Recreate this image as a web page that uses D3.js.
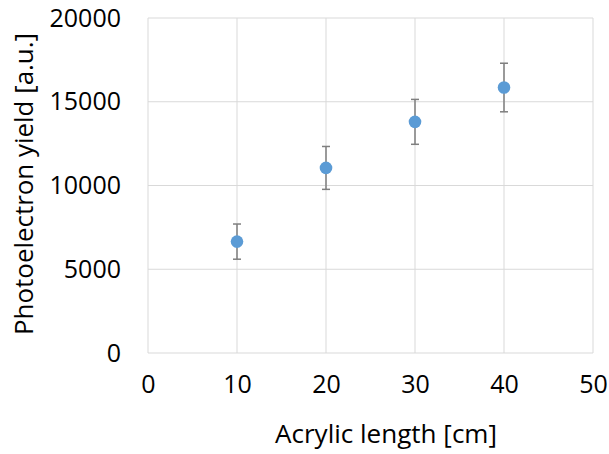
<!DOCTYPE html>
<html>
<head>
<meta charset="utf-8">
<script src="https://cdn.jsdelivr.net/npm/d3@7"></script>
<style>
  body { margin: 0; background: #fff; }
  text { font-family: "Open Sans", sans-serif; fill: #000; }
</style>
</head>
<body>
<div id="wrapper"></div>
<script>
// data
const lengths = [10, 20, 30, 40]
const yields = [6650, 11050, 13800, 15850]
const errors = [1050, 1280, 1340, 1450]
const xTicks = [0, 10, 20, 30, 40, 50]
const yTicks = [0, 5000, 10000, 15000, 20000]

const dimensions = {
  width: 609,
  height: 454,
  margin: { top: 18, right: 16, bottom: 101, left: 148 },
}
dimensions.boundedWidth = dimensions.width - dimensions.margin.left - dimensions.margin.right
dimensions.boundedHeight = dimensions.height - dimensions.margin.top - dimensions.margin.bottom

const wrapper = d3.select("#wrapper")
  .append("svg")
  .attr("width", dimensions.width)
  .attr("height", dimensions.height)

const bounds = wrapper.append("g")
  .attr("transform", `translate(${dimensions.margin.left},${dimensions.margin.top})`)

const xScale = d3.scaleLinear().domain([0, 50]).range([0, dimensions.boundedWidth])
const yScale = d3.scaleLinear().domain([0, 20000]).range([dimensions.boundedHeight, 0])

// gridlines
bounds.append("g")
  .selectAll("line")
  .data(xTicks)
  .enter().append("line")
  .attr("x1", d => xScale(d)).attr("x2", d => xScale(d))
  .attr("y1", 0).attr("y2", dimensions.boundedHeight)
  .attr("stroke", "#d9d9d9").attr("stroke-width", 1)
bounds.append("g")
  .selectAll("line")
  .data(yTicks)
  .enter().append("line")
  .attr("x1", 0).attr("x2", dimensions.boundedWidth)
  .attr("y1", d => yScale(d)).attr("y2", d => yScale(d))
  .attr("stroke", "#d9d9d9").attr("stroke-width", 1)

// axes, only for labels
const xAxis = bounds.append("g")
  .attr("transform", `translate(0,${dimensions.boundedHeight})`)
  .call(d3.axisBottom(xScale).tickValues(xTicks).tickFormat(d3.format("d")).tickSize(0).tickPadding(22))
const yAxis = bounds.append("g")
  .call(d3.axisLeft(yScale).tickValues(yTicks).tickFormat(d3.format("d")).tickSize(0).tickPadding(27))
;[xAxis, yAxis].forEach(a => {
  a.select(".domain").remove()
  a.selectAll("text")
    .style("font-family", "'Open Sans', sans-serif")
    .style("font-size", "25px")
    .attr("fill", "#000")
})

// error bars
const capHalf = 4
const bars = bounds.append("g")
  .attr("stroke", "#7f7f7f")
  .attr("stroke-width", 1.5)
lengths.forEach((l, i) => {
  const x = xScale(l)
  const yTop = yScale(yields[i] + errors[i])
  const yBot = yScale(yields[i] - errors[i])
  bars.append("line").attr("x1", x).attr("x2", x).attr("y1", yTop).attr("y2", yBot)
  bars.append("line").attr("x1", x - capHalf).attr("x2", x + capHalf).attr("y1", yTop).attr("y2", yTop)
  bars.append("line").attr("x1", x - capHalf).attr("x2", x + capHalf).attr("y1", yBot).attr("y2", yBot)
})

// points
bounds.selectAll(".dot")
  .data(lengths)
  .enter().append("circle")
  .attr("class", "dot")
  .attr("cx", d => xScale(d))
  .attr("cy", (d, i) => yScale(yields[i]))
  .attr("r", 6.3)
  .attr("fill", "#5b9bd5")

// axis titles (length fixed to match the original font)
wrapper.append("text")
  .attr("x", 386)
  .attr("y", 443)
  .attr("text-anchor", "middle")
  .attr("textLength", 222)
  .attr("lengthAdjust", "spacingAndGlyphs")
  .style("font-size", "25px")
  .text("Acrylic length [cm]")

wrapper.append("text")
  .attr("transform", `translate(33, 184) rotate(-90)`)
  .attr("text-anchor", "middle")
  .attr("textLength", 302)
  .attr("lengthAdjust", "spacingAndGlyphs")
  .style("font-size", "25px")
  .text("Photoelectron yield [a.u.]")
</script>
</body>
</html>
